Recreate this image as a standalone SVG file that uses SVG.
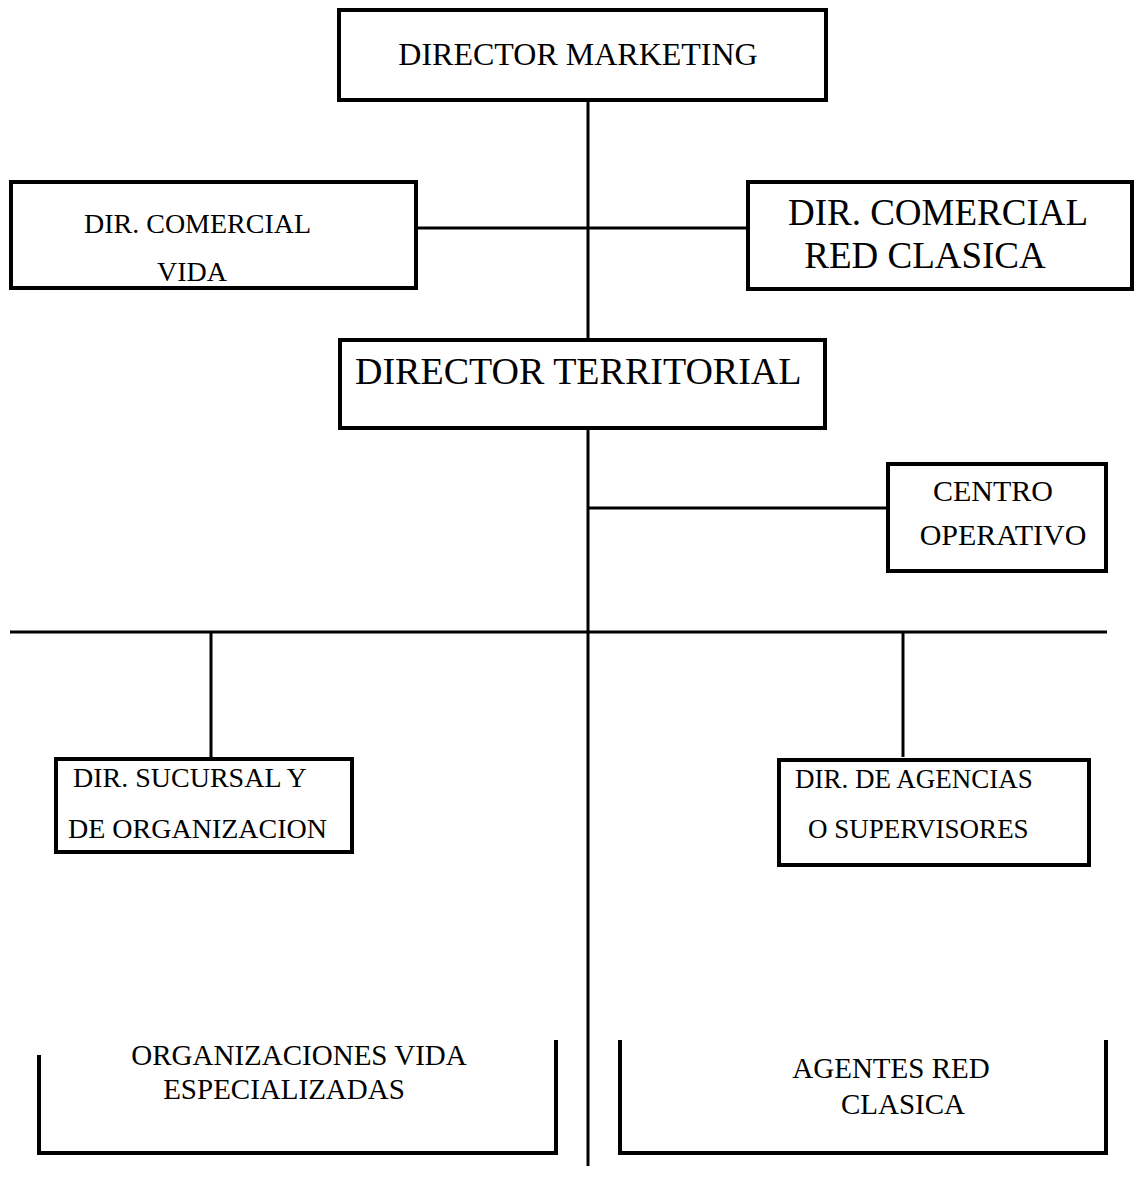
<svg xmlns="http://www.w3.org/2000/svg" width="1138" height="1194" viewBox="0 0 1138 1194">
  <style>
    .box { fill: #ffffff; stroke: #000000; stroke-width: 4; }
    .open { fill: none; stroke: #000000; stroke-width: 4; }
    .wire { stroke: #000000; stroke-width: 3; fill: none; }
    text { font-family: "Liberation Serif", "Times New Roman", serif; fill: #000000; }
  </style>
  <rect width="1138" height="1194" fill="#ffffff"/>

  <!-- connectors -->
  <g id="connectors">
    <line class="wire" x1="588" y1="101" x2="588" y2="1166"/>
    <line class="wire" x1="417" y1="228" x2="747" y2="228"/>
    <line class="wire" x1="588" y1="508" x2="887" y2="508"/>
    <line class="wire" x1="10" y1="632" x2="1107" y2="632"/>
    <line class="wire" x1="211" y1="632" x2="211" y2="757"/>
    <line class="wire" x1="903" y1="632" x2="903" y2="757"/>
  </g>

  <g id="director-marketing">
    <rect class="box" x="339" y="10" width="487" height="90"/>
    <text x="578" y="65" font-size="32" text-anchor="middle">DIRECTOR MARKETING</text>
  </g>

  <g id="dir-comercial-vida">
    <rect class="box" x="11" y="182" width="405" height="106"/>
    <text x="84" y="233" font-size="28">DIR. COMERCIAL</text>
    <text x="157" y="281" font-size="28">VIDA</text>
  </g>

  <g id="dir-comercial-red-clasica">
    <rect class="box" x="748" y="182" width="384" height="107"/>
    <text x="938" y="225" font-size="37" text-anchor="middle">DIR. COMERCIAL</text>
    <text x="925" y="268" font-size="37" text-anchor="middle">RED CLASICA</text>
  </g>

  <g id="director-territorial">
    <rect class="box" x="340" y="340" width="485" height="88"/>
    <text x="355" y="384" font-size="38">DIRECTOR TERRITORIAL</text>
  </g>

  <g id="centro-operativo">
    <rect class="box" x="888" y="464" width="218" height="107"/>
    <text x="993" y="501" font-size="30" text-anchor="middle">CENTRO</text>
    <text x="1003" y="545" font-size="30" text-anchor="middle">OPERATIVO</text>
  </g>

  <g id="dir-sucursal">
    <rect class="box" x="56" y="759" width="296" height="93"/>
    <text x="73" y="787" font-size="28">DIR. SUCURSAL Y</text>
    <text x="68" y="838" font-size="28">DE ORGANIZACION</text>
  </g>

  <g id="dir-agencias">
    <rect class="box" x="779" y="760" width="310" height="105"/>
    <text x="795" y="788" font-size="27">DIR. DE AGENCIAS</text>
    <text x="808" y="838" font-size="27">O SUPERVISORES</text>
  </g>

  <g id="organizaciones-vida">
    <path class="open" d="M39 1055 V1153 H556 V1040"/>
    <text x="299" y="1065" font-size="29" text-anchor="middle">ORGANIZACIONES VIDA</text>
    <text x="284" y="1099" font-size="29" text-anchor="middle">ESPECIALIZADAS</text>
  </g>

  <g id="agentes-red-clasica">
    <path class="open" d="M620 1040 V1153 H1106 V1040"/>
    <text x="891" y="1078" font-size="29" text-anchor="middle">AGENTES RED</text>
    <text x="903" y="1114" font-size="29" text-anchor="middle">CLASICA</text>
  </g>
</svg>
